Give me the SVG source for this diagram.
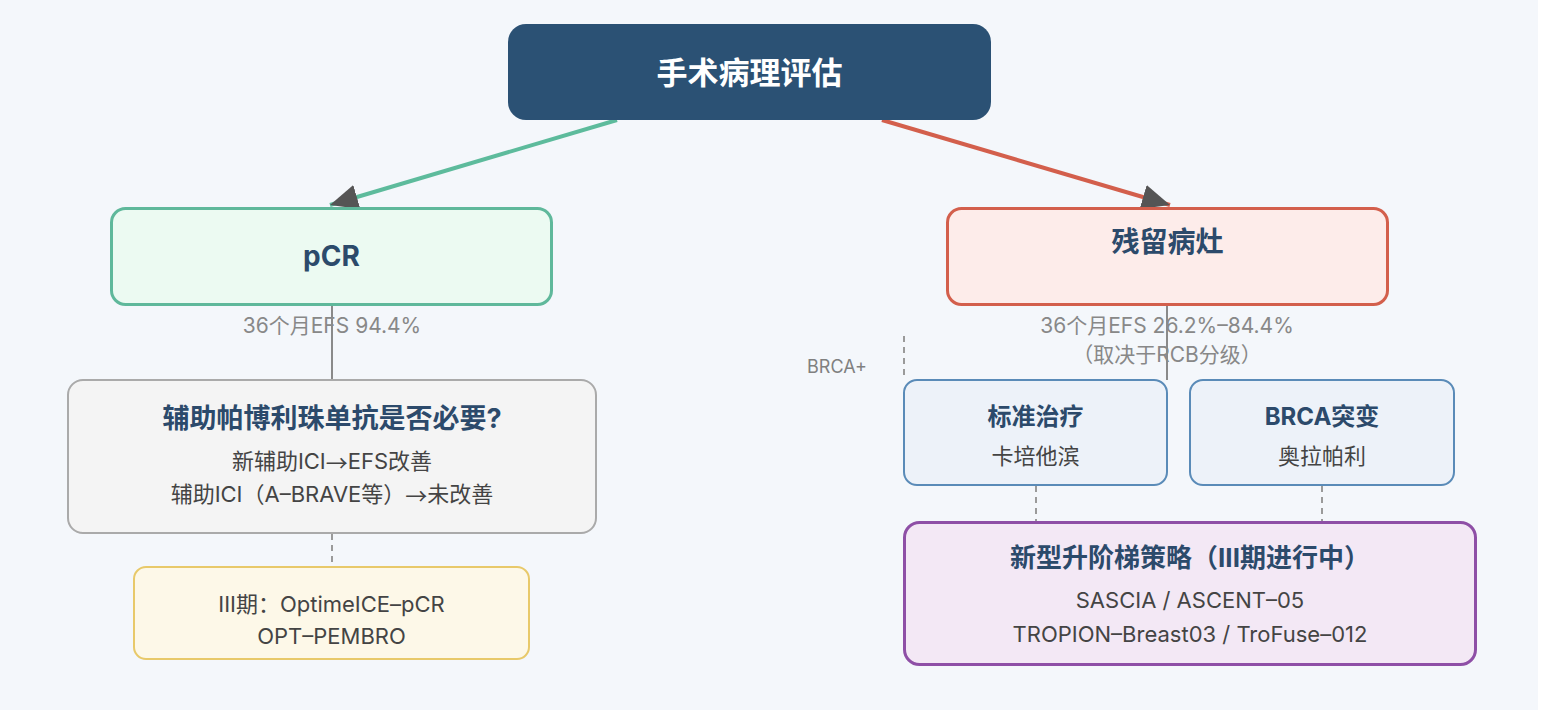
<svg xmlns="http://www.w3.org/2000/svg" width="1546" height="710" viewBox="0 0 1546 710">
<style>
text{font-family:"Inter","Noto Sans CJK SC",sans-serif;text-anchor:middle;dominant-baseline:central}
.t0{font-size:31px;font-weight:bold;fill:#ffffff}
.t1{font-size:28px;font-weight:bold;fill:#2c4a6b}
.t2{font-size:24px;font-weight:bold;fill:#2c4a6b}
.t3{font-size:26px;font-weight:bold;fill:#2c4a6b}
.t4{font-size:27px;font-weight:bold;fill:#2c4a6b}
.b{font-size:22px;fill:#444444}
.lb{font-size:21px;fill:#888888}
.sm{font-size:18px;fill:#808080}
.ar{font-family:"Noto Sans CJK SC",sans-serif}
.solid{stroke:#8a8a8a;stroke-width:2;fill:none}
.dash{stroke:#9a9a9a;stroke-width:2;stroke-dasharray:6 5;fill:none}
</style>
<defs>
<marker id="ah" markerUnits="userSpaceOnUse" markerWidth="30" markerHeight="26" refX="28" refY="12.5" orient="auto">
<path d="M0,0 L28,12.5 L0,25 z" fill="#555555"/>
</marker>
</defs>
<rect x="0" y="0" width="1546" height="710" fill="#ffffff"/>
<rect x="0" y="0" width="1538" height="710" fill="#f4f7fb"/>

<g id="labels">
<text class="lb" x="332" y="325">36个月EFS 94.4%</text>
<text class="lb" x="1167" y="325">36个月EFS 26.2%–84.4%</text>
<text class="lb" x="1167" y="354">（取决于RCB分级）</text>
<text class="sm" x="837" y="366">BRCA+</text>
</g>

<g id="connectors">
<line x1="617" y1="120" x2="330" y2="205" stroke="#5dbb9c" stroke-width="4" marker-end="url(#ah)"/>
<line x1="882" y1="120" x2="1170" y2="205" stroke="#d35f4c" stroke-width="4" marker-end="url(#ah)"/>
<line class="solid" x1="332" y1="304" x2="332" y2="380"/>
<line class="solid" x1="1167" y1="304" x2="1167" y2="380"/>
<line class="dash" x1="332" y1="534" x2="332" y2="567"/>
<line class="dash" x1="904" y1="336" x2="904" y2="380"/>
<line class="dash" x1="1036" y1="486" x2="1036" y2="522"/>
<line class="dash" x1="1322" y1="486" x2="1322" y2="522"/>
</g>

<g id="root">
<rect x="508" y="24" width="483" height="96" rx="18" fill="#2b5174"/>
<text class="t0" x="749.5" y="72">手术病理评估</text>
</g>

<g id="pcr">
<rect x="111.5" y="208.5" width="440" height="96" rx="14" fill="#ecfaf2" stroke="#5fb89b" stroke-width="3"/>
<text class="t1" x="331.5" y="256">pCR</text>
</g>

<g id="residual">
<rect x="947.5" y="208.5" width="440" height="96" rx="14" fill="#fdecea" stroke="#d35f4c" stroke-width="3"/>
<text class="t1" x="1167.5" y="242">残留病灶</text>
</g>

<g id="adjuvant">
<rect x="68" y="380" width="528" height="153" rx="15" fill="#f4f4f4" stroke="#aaaaaa" stroke-width="2"/>
<text class="t4" x="332" y="418">辅助帕博利珠单抗是否必要?</text>
<text class="b" x="332" y="461">新辅助ICI<tspan class="ar">→</tspan>EFS改善</text>
<text class="b" x="332" y="494">辅助ICI（A–BRAVE等）<tspan class="ar">→</tspan>未改善</text>
</g>

<g id="trials-pcr">
<rect x="134" y="567" width="395" height="92" rx="12" fill="#fdf8e8" stroke="#e8c96a" stroke-width="2"/>
<text class="b" x="331.5" y="604">III期：OptimeICE–pCR</text>
<text class="b" x="331.5" y="636">OPT–PEMBRO</text>
</g>

<g id="standard">
<rect x="904" y="380" width="263" height="105" rx="13" fill="#edf2f9" stroke="#5a8bb8" stroke-width="2"/>
<text class="t2" x="1035.5" y="416">标准治疗</text>
<text class="b" x="1035.5" y="456">卡培他滨</text>
</g>

<g id="brca">
<rect x="1190" y="380" width="264" height="105" rx="13" fill="#edf2f9" stroke="#5a8bb8" stroke-width="2"/>
<text class="t2" x="1322" y="416">BRCA突变</text>
<text class="b" x="1322" y="456">奥拉帕利</text>
</g>

<g id="escalation">
<rect x="904.5" y="522.5" width="571" height="142" rx="15" fill="#f3e8f5" stroke="#8e4fa6" stroke-width="3"/>
<text class="t3" x="1190" y="557">新型升阶梯策略（III期进行中）</text>
<text class="b" x="1190" y="600">SASCIA / ASCENT–05</text>
<text class="b" x="1190" y="634">TROPION–Breast03 / TroFuse–012</text>
</g>
</svg>
